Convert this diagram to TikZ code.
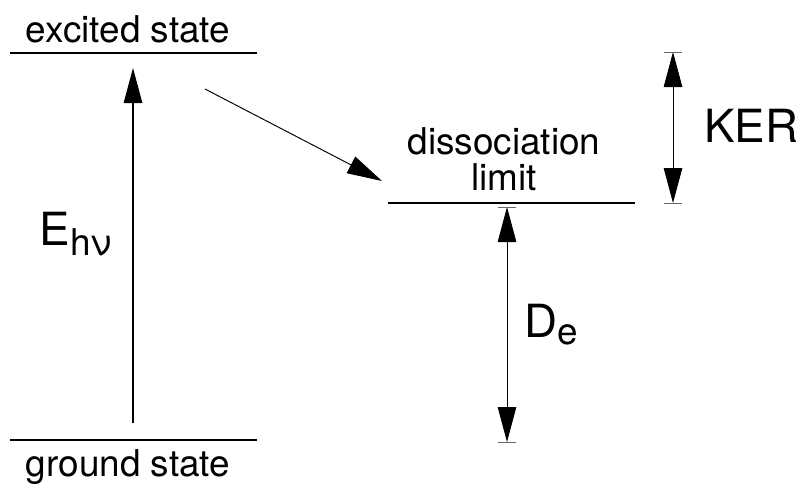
\documentclass[tikz,border=0pt]{standalone}
\usepackage{fontspec}
\setmainfont{TeX Gyre Heros}
\usetikzlibrary{arrows.meta}
\newcommand{\bigfont}{\fontsize{26}{30}\selectfont}
\newcommand{\smallfont}{\fontsize{21}{20}\selectfont}

\begin{document}
\begin{tikzpicture}[>={Triangle[length=0.7cm, width=0.37cm]},
	level/.style={line width=0.75pt},
	endtick/.style={line width=0.5pt, black!60}]
	\useasboundingbox (0,0) rectangle (16.12,9.66);
	% energy levels
	\draw[level] (0.2,8.6) -- (5.14,8.6);
	\draw[level] (0.2,0.86) -- (5.14,0.86);
	\draw[level] (7.76,5.6) -- (12.7,5.6);
	\node (exc) [anchor=base, font=\smallfont] at (2.56,8.82) {excited state};
	\node (gnd) [anchor=base, font=\smallfont] at (2.56,0.14) {ground state};
	\node (dis) [anchor=base, align=center, font=\smallfont] at (10.08,5.86) {dissociation\\limit};
	% arrow end points
	\coordinate (Elow) at (2.66,1.2);
	\coordinate (Ehigh) at (2.66,8.3);
	\coordinate (Xstart) at (4.1,7.88);
	\coordinate (Xend) at (7.64,6.04);
	\coordinate (Ktop) at (13.46,8.62);
	\coordinate (Kbot) at (13.46,5.6);
	\coordinate (Dtop) at (10.14,5.52);
	\coordinate (Dbot) at (10.14,0.82);
	% transitions
	\draw[->, line width=0.75pt] (Elow) -- (Ehigh);
	\draw[->, line width=0.55pt] (Xstart) -- (Xend);
	\draw[<->, line width=0.5pt] (Ktop) -- (Kbot);
	\draw[<->, line width=0.5pt] (Dtop) -- (Dbot);
	\foreach \p in {Ktop, Kbot, Dtop, Dbot}
		\draw[endtick] ([xshift=-0.18cm]\p) -- ([xshift=0.18cm]\p);
	% labels
	\node (Ehv) [anchor=base west, inner sep=0pt] at (0.79,4.76) {\bigfont E\raisebox{-5.7pt}{\smallfont hν}};
	\node (KER) [anchor=base west, inner sep=0pt] at (14.08,6.82) {\bigfont KER};
	\node (De) [anchor=base west, inner sep=0pt] at (10.49,2.92) {\bigfont D\raisebox{-4.5pt}{\smallfont e}};
\end{tikzpicture}
\end{document}
